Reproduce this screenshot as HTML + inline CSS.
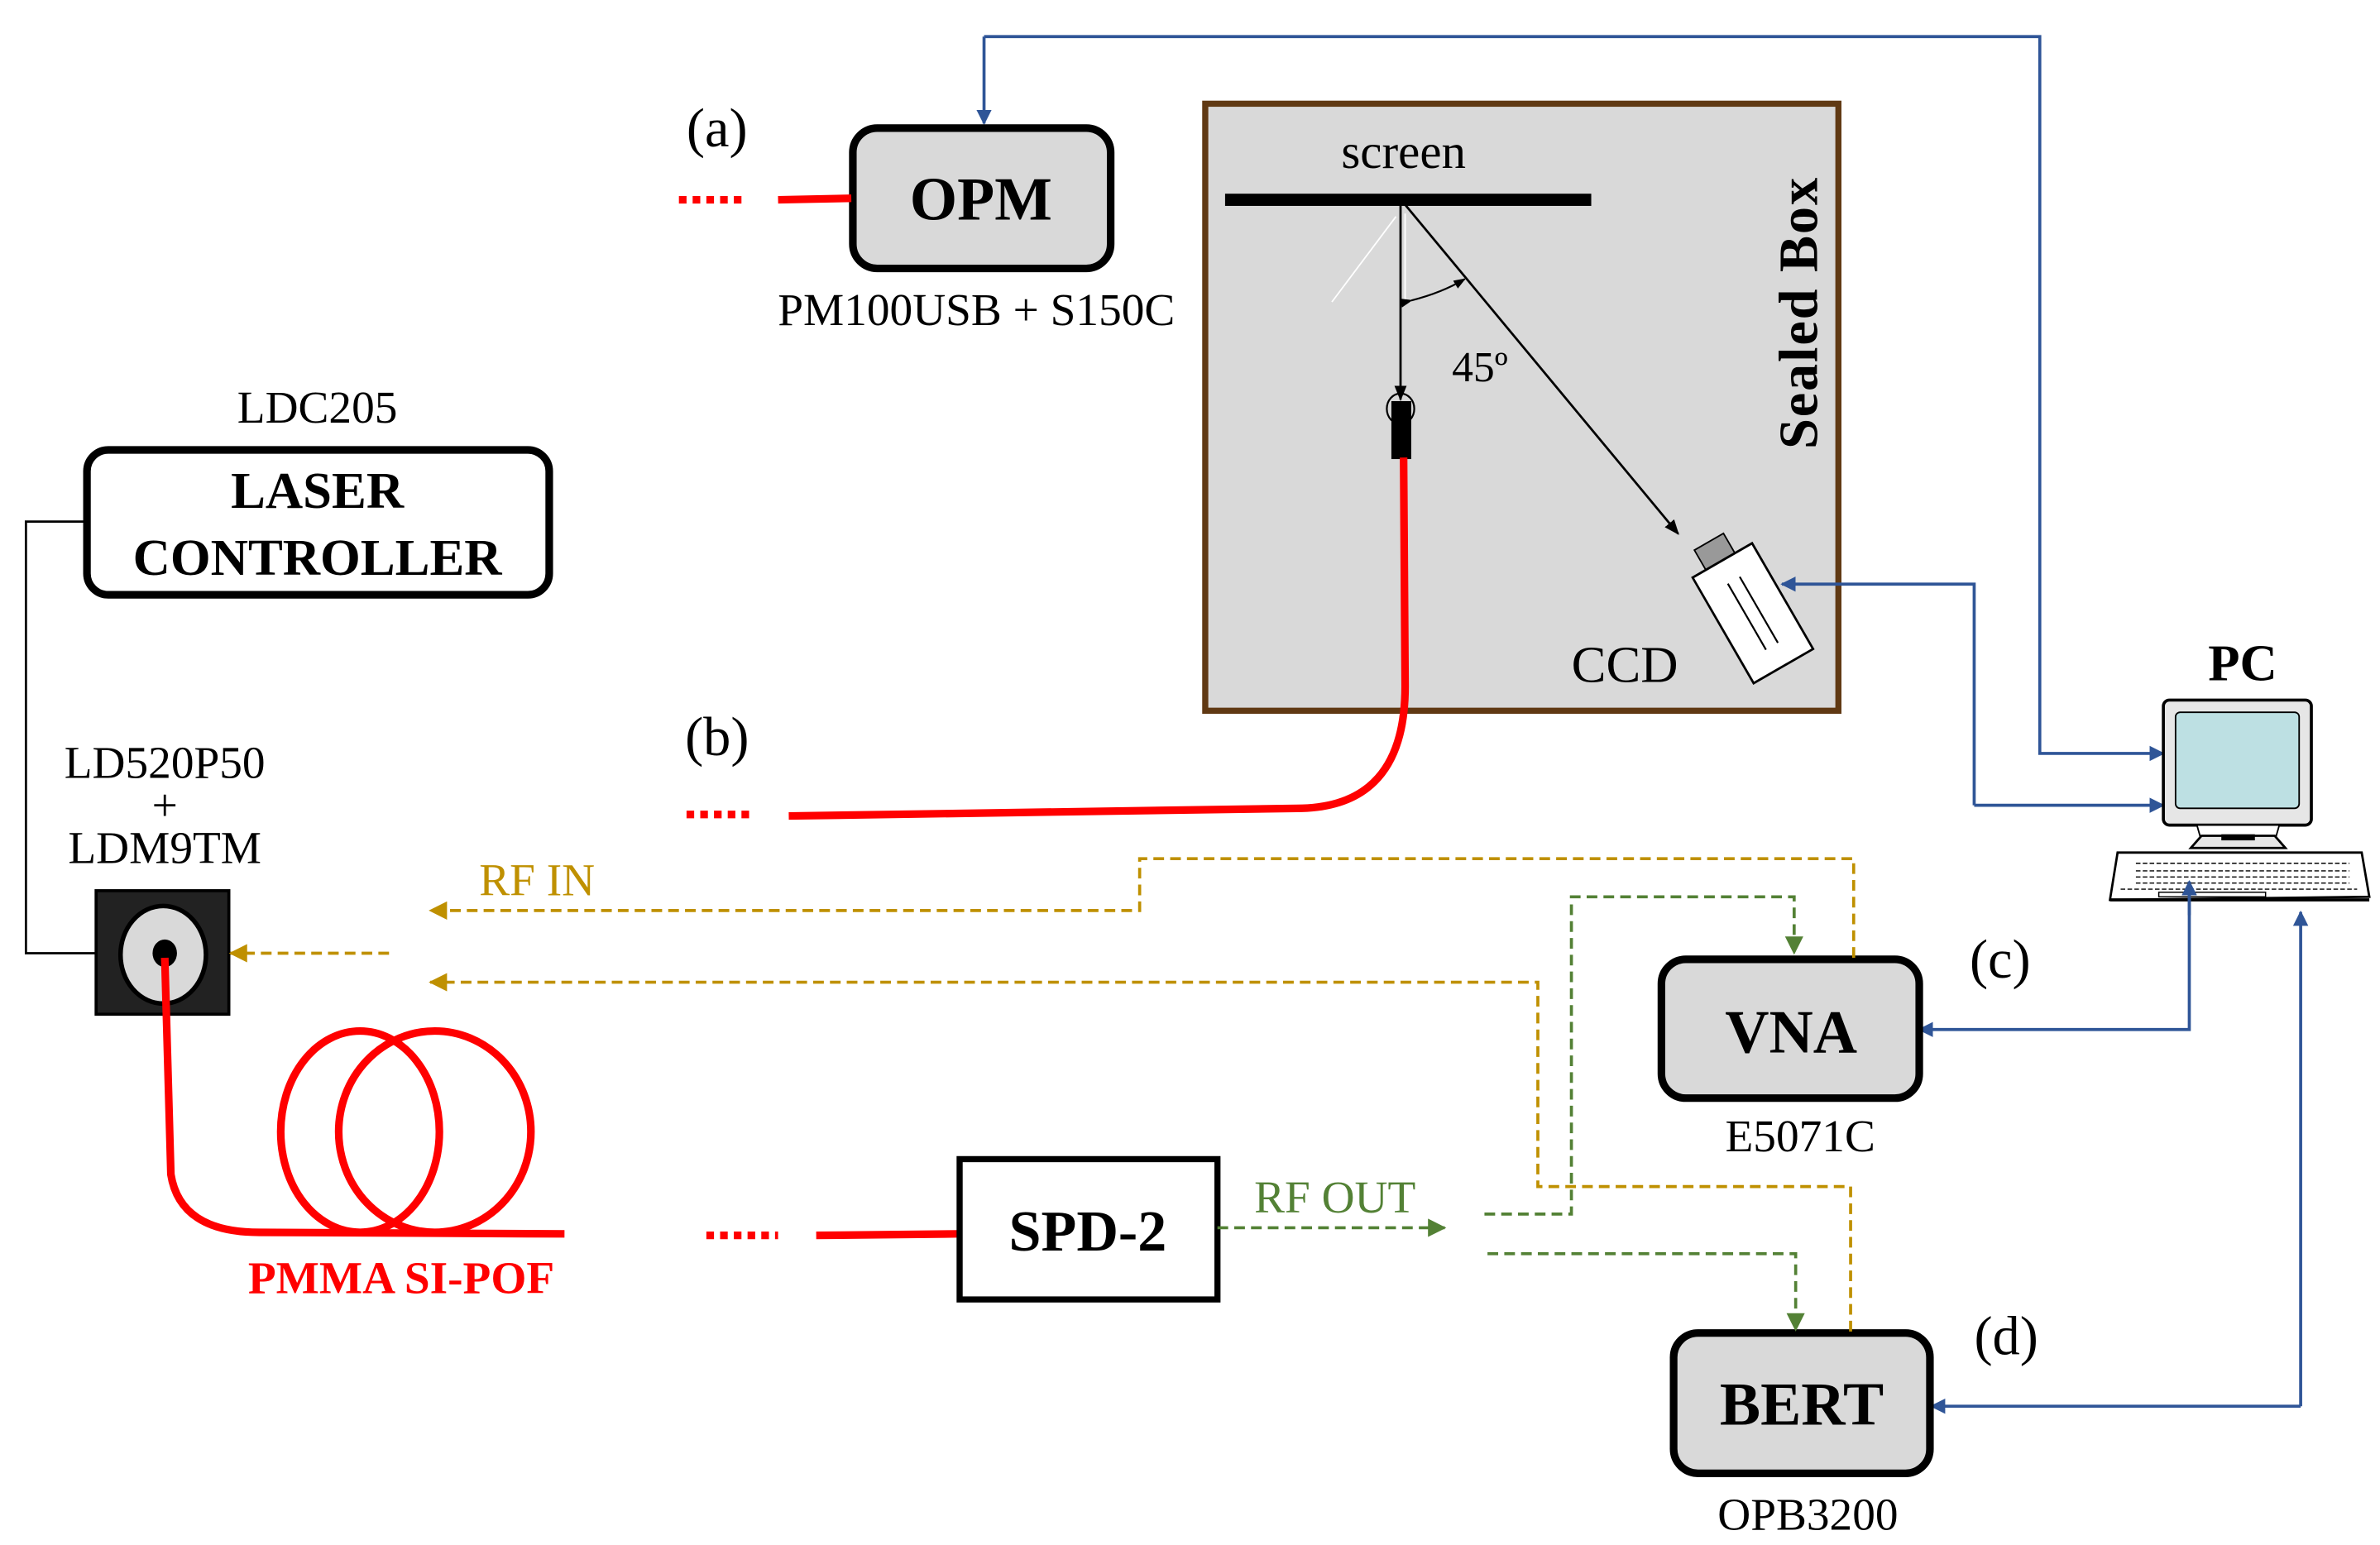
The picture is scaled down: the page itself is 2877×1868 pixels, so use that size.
<!DOCTYPE html>
<html><head><meta charset="utf-8"><style>
html,body{margin:0;padding:0;background:#fff;}
svg{display:block;}
text{font-family:"Liberation Serif",serif;}
</style></head><body>
<svg width="2877" height="1868" viewBox="0 0 1560 1013" preserveAspectRatio="none" xmlns="http://www.w3.org/2000/svg">
<defs>
<marker id="ab" markerWidth="10" markerHeight="10" refX="9" refY="5" orient="auto" markerUnits="userSpaceOnUse"><path d="M0,0 L10,5 L0,10z" fill="#2f5597"/></marker>
<marker id="ag" markerWidth="12" markerHeight="12" refX="11" refY="6" orient="auto" markerUnits="userSpaceOnUse"><path d="M0,0 L12,6 L0,12z" fill="#bf9000"/></marker>
<marker id="agr" markerWidth="12" markerHeight="12" refX="11" refY="6" orient="auto" markerUnits="userSpaceOnUse"><path d="M0,0 L12,6 L0,12z" fill="#538135"/></marker>
<marker id="ak" markerWidth="10" markerHeight="10" refX="9" refY="5" orient="auto" markerUnits="userSpaceOnUse"><path d="M0,1 L10,5 L0,9z" fill="#000"/></marker>
<marker id="aks" markerWidth="8" markerHeight="8" refX="7" refY="4" orient="auto" markerUnits="userSpaceOnUse"><path d="M0,1 L8,4 L0,7z" fill="#000"/></marker>
</defs>

<!-- Sealed box -->
<rect x="790" y="68" width="415" height="398" fill="#d9d9d9" stroke="#603913" stroke-width="4"/>
<text x="920" y="110" font-size="32" text-anchor="middle">screen</text>
<rect x="803" y="127" width="240" height="8" fill="#000"/>
<line x1="915" y1="142" x2="873" y2="198" stroke="#fff" stroke-width="1"/>
<line x1="921" y1="140" x2="921" y2="200" stroke="#fff" stroke-width="1"/>
<line x1="918" y1="133" x2="918" y2="262" stroke="#000" stroke-width="1.5" marker-end="url(#ak)"/>
<line x1="920" y1="133" x2="1100" y2="350" stroke="#000" stroke-width="1.5" marker-end="url(#ak)"/>
<path d="M925,197 Q945,192 960,183" fill="none" stroke="#000" stroke-width="1.2" marker-end="url(#aks)" marker-start="url(#aks)"/>
<text x="970" y="250" font-size="28" text-anchor="middle">45º</text>
<ellipse cx="918" cy="268" rx="9" ry="10" fill="none" stroke="#000" stroke-width="1.2"/>
<rect x="912" y="263" width="13" height="38" fill="#000"/>
<text x="1065" y="447" font-size="34" text-anchor="middle">CCD</text>
<text transform="translate(1191,205) rotate(-90)" font-size="36" font-weight="bold" text-anchor="middle" letter-spacing="1">Sealed Box</text>
<!-- CCD camera -->
<g transform="translate(1146,398) rotate(-30)">
<rect x="-12" y="-50" width="22" height="18" fill="#999" stroke="#000" stroke-width="1"/>
<rect x="-22" y="-35" width="45" height="80" fill="#fff" stroke="#000" stroke-width="1.5"/>
<line x1="-4" y1="-20" x2="-4" y2="30" stroke="#000" stroke-width="1.2"/>
<line x1="5" y1="-20" x2="5" y2="30" stroke="#000" stroke-width="1.2"/>
</g>
<!-- red fiber b -->
<path d="M920,300 L921,450 Q921,530 850,530 L517,535" fill="none" stroke="#ff0000" stroke-width="5"/>
<line x1="450" y1="534" x2="495" y2="534" stroke="#ff0000" stroke-width="5" stroke-dasharray="5,4"/>
<text x="470" y="495" font-size="36" text-anchor="middle">(b)</text>

<!-- OPM -->
<line x1="645" y1="24" x2="645" y2="81" stroke="#2f5597" stroke-width="2" marker-end="url(#ab)"/>
<polyline points="645,24 1337,24 1337,494 1418,494" fill="none" stroke="#2f5597" stroke-width="2" marker-end="url(#ab)"/>
<rect x="559" y="84" width="169" height="92" rx="16" fill="#d9d9d9" stroke="#000" stroke-width="5"/>
<text x="643" y="144" font-size="40" font-weight="bold" text-anchor="middle">OPM</text>
<text x="470" y="96" font-size="36" text-anchor="middle">(a)</text>
<line x1="445" y1="131" x2="490" y2="131" stroke="#ff0000" stroke-width="5" stroke-dasharray="5,4"/>
<line x1="510" y1="131" x2="558" y2="130" stroke="#ff0000" stroke-width="5"/>
<text x="640" y="213" font-size="30" text-anchor="middle">PM100USB + S150C</text>

<!-- CCD to PC -->
<polyline points="1294,528 1294,383 1168,383" fill="none" stroke="#2f5597" stroke-width="2" marker-end="url(#ab)"/>
<line x1="1294" y1="528" x2="1418" y2="528" stroke="#2f5597" stroke-width="2" marker-end="url(#ab)"/>

<!-- PC -->
<text x="1470" y="446" font-size="34" font-weight="bold" text-anchor="middle">PC</text>
<rect x="1418" y="459" width="97" height="82" rx="4" fill="#e6e6e6" stroke="#000" stroke-width="2"/>
<rect x="1426" y="467" width="81" height="63" rx="3" fill="#bde0e3" stroke="#000" stroke-width="1"/>
<path d="M1440,541 L1494,541 L1492,548 L1442,548z" fill="#fff" stroke="#000" stroke-width="1"/>
<path d="M1443,548 L1491,548 L1498,556 L1436,556z" fill="#e6e6e6" stroke="#000" stroke-width="1.5"/>
<rect x="1456" y="547" width="22" height="4" fill="#000"/>
<path d="M1388,559 L1548,559 L1553,588 L1383,590z" fill="#fff" stroke="#000" stroke-width="1.5"/>
<line x1="1383" y1="590" x2="1553" y2="590" stroke="#000" stroke-width="2"/>
<g fill="none" stroke="#000" stroke-width="0.8">
<line x1="1400" y1="566" x2="1540" y2="566" stroke-dasharray="3,1.5"/>
<line x1="1400" y1="571" x2="1540" y2="571" stroke-dasharray="3,1.5"/>
<line x1="1400" y1="575" x2="1540" y2="575" stroke-dasharray="3,1.5"/>
<line x1="1400" y1="579" x2="1540" y2="579" stroke-dasharray="3,1.5"/>
<line x1="1390" y1="583" x2="1545" y2="583" stroke-dasharray="3,1.5"/>
<rect x="1415" y="585" width="70" height="3"/>
</g>
<polyline points="1435,578 1435,675 1258,675" fill="none" stroke="#2f5597" stroke-width="2" marker-end="url(#ab)"/>
<line x1="1435" y1="600" x2="1435" y2="578" stroke="#2f5597" stroke-width="2" marker-end="url(#ab)"/>
<polyline points="1508,922 1266,922" fill="none" stroke="#2f5597" stroke-width="2" marker-end="url(#ab)"/>
<line x1="1508" y1="922" x2="1508" y2="598" stroke="#2f5597" stroke-width="2" marker-end="url(#ab)"/>

<!-- VNA -->
<rect x="1089" y="629" width="169" height="91" rx="16" fill="#d9d9d9" stroke="#000" stroke-width="5"/>
<text x="1174" y="690" font-size="40" font-weight="bold" text-anchor="middle">VNA</text>
<text x="1180" y="755" font-size="30" text-anchor="middle">E5071C</text>
<text x="1311" y="641" font-size="36" text-anchor="middle">(c)</text>
<!-- BERT -->
<rect x="1097" y="874" width="168" height="92" rx="16" fill="#d9d9d9" stroke="#000" stroke-width="5"/>
<text x="1181" y="934" font-size="40" font-weight="bold" text-anchor="middle">BERT</text>
<text x="1185" y="1003" font-size="30" text-anchor="middle">OPB3200</text>
<text x="1315" y="888" font-size="36" text-anchor="middle">(d)</text>

<!-- Laser controller -->
<text x="208" y="277" font-size="30" text-anchor="middle">LDC205</text>
<rect x="57" y="295" width="303" height="95" rx="14" fill="#fff" stroke="#000" stroke-width="5"/>
<text x="208" y="333" font-size="34" font-weight="bold" text-anchor="middle">LASER</text>
<text x="208" y="377" font-size="34" font-weight="bold" text-anchor="middle">CONTROLLER</text>
<polyline points="57,342 17,342 17,625 63,625" fill="none" stroke="#000" stroke-width="1.5"/>
<text x="108" y="510" font-size="30" text-anchor="middle">LD520P50</text>
<text x="108" y="538" font-size="30" text-anchor="middle">+</text>
<text x="108" y="566" font-size="30" text-anchor="middle">LDM9TM</text>
<rect x="63" y="584" width="87" height="81" fill="#222" stroke="#000" stroke-width="2"/>
<ellipse cx="107" cy="626" rx="28" ry="32" fill="#d9d9d9" stroke="#000" stroke-width="3"/>
<ellipse cx="108" cy="625" rx="8" ry="9" fill="#000"/>
<!-- fiber coil -->
<path d="M108,628 L112,770 Q118,808 170,808 L370,809" fill="none" stroke="#ff0000" stroke-width="5"/>
<ellipse cx="236" cy="742" rx="52" ry="66" fill="none" stroke="#ff0000" stroke-width="5"/>
<ellipse cx="285" cy="742" rx="63" ry="66" fill="none" stroke="#ff0000" stroke-width="5"/>
<text x="263" y="848" font-size="30" font-weight="bold" fill="#ff0000" text-anchor="middle">PMMA SI-POF</text>

<!-- SPD-2 -->
<line x1="463" y1="810" x2="510" y2="810" stroke="#ff0000" stroke-width="5" stroke-dasharray="5,4"/>
<line x1="535" y1="810" x2="628" y2="809" stroke="#ff0000" stroke-width="5"/>
<rect x="629" y="760" width="169" height="92" fill="#fff" stroke="#000" stroke-width="4"/>
<text x="713" y="820" font-size="38" font-weight="bold" text-anchor="middle">SPD-2</text>
<text x="875" y="795" font-size="30" fill="#538135" text-anchor="middle">RF OUT</text>
<line x1="798" y1="805" x2="947" y2="805" stroke="#538135" stroke-width="2" stroke-dasharray="7,4" marker-end="url(#agr)"/>
<polyline points="973,796 1030,796 1030,588 1176,588 1176,625" fill="none" stroke="#538135" stroke-width="2" stroke-dasharray="7,4" marker-end="url(#agr)"/>
<polyline points="975,822 1177,822 1177,872" fill="none" stroke="#538135" stroke-width="2" stroke-dasharray="7,4" marker-end="url(#agr)"/>

<!-- gold RF IN -->
<text x="352" y="587" font-size="30" fill="#bf9000" text-anchor="middle">RF IN</text>
<polyline points="1215,628 1215,563 747,563 747,597 282,597" fill="none" stroke="#bf9000" stroke-width="2" stroke-dasharray="7,4" marker-end="url(#ag)"/>
<polyline points="1213,873 1213,778 1008,778 1008,644 282,644" fill="none" stroke="#bf9000" stroke-width="2" stroke-dasharray="7,4" marker-end="url(#ag)"/>
<line x1="255" y1="625" x2="151" y2="625" stroke="#bf9000" stroke-width="2" stroke-dasharray="7,4" marker-end="url(#ag)"/>
</svg>
</body></html>
